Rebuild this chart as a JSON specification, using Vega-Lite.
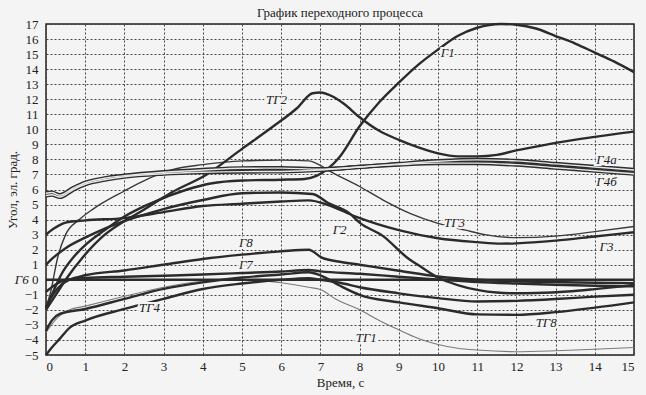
{
  "$schema": "https://vega.github.io/schema/vega-lite/v6.json",
  "width": 588,
  "height": 331,
  "autosize": "none",
  "padding": {"left": 46, "top": 24, "right": 12, "bottom": 40},
  "background": "#f4f4f4",
  "title": {"text": "График переходного процесса", "font": "Liberation Serif", "fontSize": 13, "fontWeight": "normal", "color": "#222", "offset": -2},
  "config": {
    "view": {"stroke": "#222", "strokeWidth": 1.5},
    "axis": {"labelFont": "Liberation Serif", "labelFontSize": 13, "labelColor": "#222", "titleFont": "Liberation Serif", "titleFontSize": 13, "titleFontWeight": "normal", "titleColor": "#222", "gridColor": "#444", "gridDash": [2, 2], "gridWidth": 1, "domain": false, "ticks": false}
  },
  "datasets": {
    "curves": [
      {"s": "Г1", "t": 0, "v": -1.9}, {"s": "Г1", "t": 0.2, "v": -0.7}, {"s": "Г1", "t": 0.4, "v": 0.4}, {"s": "Г1", "t": 0.7, "v": 1.5}, {"s": "Г1", "t": 1, "v": 2.3}, {"s": "Г1", "t": 1.5, "v": 3.3}, {"s": "Г1", "t": 2, "v": 4.2}, {"s": "Г1", "t": 2.6, "v": 5.0}, {"s": "Г1", "t": 3.6, "v": 6.0}, {"s": "Г1", "t": 4.2, "v": 6.4}, {"s": "Г1", "t": 5, "v": 6.6}, {"s": "Г1", "t": 6, "v": 6.65}, {"s": "Г1", "t": 6.6, "v": 6.7}, {"s": "Г1", "t": 6.9, "v": 6.9}, {"s": "Г1", "t": 7.2, "v": 7.4}, {"s": "Г1", "t": 7.5, "v": 8.2}, {"s": "Г1", "t": 8, "v": 10.2}, {"s": "Г1", "t": 8.5, "v": 11.8}, {"s": "Г1", "t": 9, "v": 13.1}, {"s": "Г1", "t": 9.5, "v": 14.3}, {"s": "Г1", "t": 10, "v": 15.3}, {"s": "Г1", "t": 10.5, "v": 16.2}, {"s": "Г1", "t": 11, "v": 16.75}, {"s": "Г1", "t": 11.6, "v": 17.0}, {"s": "Г1", "t": 12, "v": 16.95}, {"s": "Г1", "t": 12.5, "v": 16.7}, {"s": "Г1", "t": 13, "v": 16.2}, {"s": "Г1", "t": 13.5, "v": 15.7}, {"s": "Г1", "t": 14, "v": 15.1}, {"s": "Г1", "t": 14.5, "v": 14.5}, {"s": "Г1", "t": 15, "v": 13.8},
      {"s": "ТГ2", "t": 0, "v": -2.0}, {"s": "ТГ2", "t": 0.3, "v": -0.8}, {"s": "ТГ2", "t": 0.5, "v": 0.0}, {"s": "ТГ2", "t": 0.94, "v": 1.5}, {"s": "ТГ2", "t": 1.5, "v": 3.0}, {"s": "ТГ2", "t": 2, "v": 3.9}, {"s": "ТГ2", "t": 2.4, "v": 4.5}, {"s": "ТГ2", "t": 3.2, "v": 5.8}, {"s": "ТГ2", "t": 4.1, "v": 7.0}, {"s": "ТГ2", "t": 5, "v": 8.7}, {"s": "ТГ2", "t": 5.8, "v": 10.2}, {"s": "ТГ2", "t": 6.4, "v": 11.4}, {"s": "ТГ2", "t": 6.8, "v": 12.4}, {"s": "ТГ2", "t": 7, "v": 12.45}, {"s": "ТГ2", "t": 7.3, "v": 12.2}, {"s": "ТГ2", "t": 7.6, "v": 11.7}, {"s": "ТГ2", "t": 8, "v": 10.8}, {"s": "ТГ2", "t": 8.5, "v": 9.9}, {"s": "ТГ2", "t": 9, "v": 9.3}, {"s": "ТГ2", "t": 9.5, "v": 8.8}, {"s": "ТГ2", "t": 10, "v": 8.4}, {"s": "ТГ2", "t": 10.5, "v": 8.2}, {"s": "ТГ2", "t": 11, "v": 8.2}, {"s": "ТГ2", "t": 11.5, "v": 8.3}, {"s": "ТГ2", "t": 12, "v": 8.6}, {"s": "ТГ2", "t": 12.5, "v": 8.85}, {"s": "ТГ2", "t": 13, "v": 9.1}, {"s": "ТГ2", "t": 14, "v": 9.5}, {"s": "ТГ2", "t": 15, "v": 9.85},
      {"s": "Г2", "t": 0, "v": 1.0}, {"s": "Г2", "t": 0.2, "v": 1.5}, {"s": "Г2", "t": 0.5, "v": 2.1}, {"s": "Г2", "t": 1, "v": 2.8}, {"s": "Г2", "t": 1.5, "v": 3.4}, {"s": "Г2", "t": 2, "v": 3.9}, {"s": "Г2", "t": 3, "v": 4.7}, {"s": "Г2", "t": 4, "v": 5.3}, {"s": "Г2", "t": 5, "v": 5.75}, {"s": "Г2", "t": 6, "v": 5.8}, {"s": "Г2", "t": 6.8, "v": 5.7}, {"s": "Г2", "t": 7.2, "v": 5.1}, {"s": "Г2", "t": 7.75, "v": 4.4}, {"s": "Г2", "t": 8, "v": 3.8}, {"s": "Г2", "t": 8.6, "v": 2.9}, {"s": "Г2", "t": 9.2, "v": 1.5}, {"s": "Г2", "t": 9.6, "v": 0.8}, {"s": "Г2", "t": 10, "v": 0.15}, {"s": "Г2", "t": 10.5, "v": -0.35}, {"s": "Г2", "t": 11, "v": -0.67}, {"s": "Г2", "t": 11.5, "v": -0.85}, {"s": "Г2", "t": 12, "v": -0.9}, {"s": "Г2", "t": 12.5, "v": -0.88}, {"s": "Г2", "t": 13.3, "v": -0.78}, {"s": "Г2", "t": 14, "v": -0.62}, {"s": "Г2", "t": 15, "v": -0.35},
      {"s": "Г3", "t": 0, "v": 3.0}, {"s": "Г3", "t": 0.2, "v": 3.4}, {"s": "Г3", "t": 0.5, "v": 3.8}, {"s": "Г3", "t": 1, "v": 3.95}, {"s": "Г3", "t": 2, "v": 4.1}, {"s": "Г3", "t": 3, "v": 4.5}, {"s": "Г3", "t": 4, "v": 4.9}, {"s": "Г3", "t": 5, "v": 5.05}, {"s": "Г3", "t": 6, "v": 5.2}, {"s": "Г3", "t": 6.7, "v": 5.28}, {"s": "Г3", "t": 7.2, "v": 4.97}, {"s": "Г3", "t": 7.9, "v": 4.2}, {"s": "Г3", "t": 9, "v": 3.3}, {"s": "Г3", "t": 10, "v": 2.76}, {"s": "Г3", "t": 11, "v": 2.5}, {"s": "Г3", "t": 11.6, "v": 2.4}, {"s": "Г3", "t": 12, "v": 2.42}, {"s": "Г3", "t": 13, "v": 2.6}, {"s": "Г3", "t": 14, "v": 2.88}, {"s": "Г3", "t": 15, "v": 3.16},
      {"s": "ТГ3", "t": 0, "v": -1.8}, {"s": "ТГ3", "t": 0.1, "v": -1.0}, {"s": "ТГ3", "t": 0.3, "v": 1.5}, {"s": "ТГ3", "t": 0.5, "v": 3.0}, {"s": "ТГ3", "t": 0.85, "v": 4.0}, {"s": "ТГ3", "t": 1.2, "v": 4.7}, {"s": "ТГ3", "t": 2, "v": 5.9}, {"s": "ТГ3", "t": 2.6, "v": 6.7}, {"s": "ТГ3", "t": 3.2, "v": 7.3}, {"s": "ТГ3", "t": 4, "v": 7.65}, {"s": "ТГ3", "t": 4.5, "v": 7.8}, {"s": "ТГ3", "t": 5, "v": 7.9}, {"s": "ТГ3", "t": 6, "v": 7.95}, {"s": "ТГ3", "t": 6.7, "v": 7.9}, {"s": "ТГ3", "t": 7, "v": 7.6}, {"s": "ТГ3", "t": 7.25, "v": 7.2}, {"s": "ТГ3", "t": 8, "v": 6.2}, {"s": "ТГ3", "t": 8.6, "v": 5.3}, {"s": "ТГ3", "t": 9.3, "v": 4.4}, {"s": "ТГ3", "t": 10, "v": 3.75}, {"s": "ТГ3", "t": 10.7, "v": 3.3}, {"s": "ТГ3", "t": 11.2, "v": 3.0}, {"s": "ТГ3", "t": 12, "v": 2.8}, {"s": "ТГ3", "t": 13, "v": 2.9}, {"s": "ТГ3", "t": 14, "v": 3.2}, {"s": "ТГ3", "t": 15, "v": 3.54},
      {"s": "Г4а", "t": 0, "v": 5.75}, {"s": "Г4а", "t": 0.15, "v": 5.8}, {"s": "Г4а", "t": 0.35, "v": 5.62}, {"s": "Г4а", "t": 0.7, "v": 6.1}, {"s": "Г4а", "t": 1, "v": 6.45}, {"s": "Г4а", "t": 1.5, "v": 6.75}, {"s": "Г4а", "t": 2, "v": 6.92}, {"s": "Г4а", "t": 3, "v": 7.15}, {"s": "Г4а", "t": 4, "v": 7.3}, {"s": "Г4а", "t": 5, "v": 7.41}, {"s": "Г4а", "t": 6, "v": 7.42}, {"s": "Г4а", "t": 7, "v": 7.35}, {"s": "Г4а", "t": 8, "v": 7.5}, {"s": "Г4а", "t": 9, "v": 7.7}, {"s": "Г4а", "t": 10, "v": 7.88}, {"s": "Г4а", "t": 11, "v": 7.97}, {"s": "Г4а", "t": 12, "v": 7.9}, {"s": "Г4а", "t": 13, "v": 7.7}, {"s": "Г4а", "t": 14, "v": 7.5}, {"s": "Г4а", "t": 15, "v": 7.3},
      {"s": "Г4б", "t": 0, "v": 5.6}, {"s": "Г4б", "t": 0.15, "v": 5.65}, {"s": "Г4б", "t": 0.35, "v": 5.5}, {"s": "Г4б", "t": 0.7, "v": 6.0}, {"s": "Г4б", "t": 1, "v": 6.35}, {"s": "Г4б", "t": 1.5, "v": 6.65}, {"s": "Г4б", "t": 2, "v": 6.85}, {"s": "Г4б", "t": 3, "v": 7.05}, {"s": "Г4б", "t": 4, "v": 7.15}, {"s": "Г4б", "t": 5, "v": 7.19}, {"s": "Г4б", "t": 6, "v": 7.2}, {"s": "Г4б", "t": 7, "v": 7.3}, {"s": "Г4б", "t": 8, "v": 7.5}, {"s": "Г4б", "t": 9, "v": 7.65}, {"s": "Г4б", "t": 10, "v": 7.75}, {"s": "Г4б", "t": 11, "v": 7.75}, {"s": "Г4б", "t": 12, "v": 7.65}, {"s": "Г4б", "t": 13, "v": 7.45}, {"s": "Г4б", "t": 14, "v": 7.25}, {"s": "Г4б", "t": 15, "v": 7.05},
      {"s": "Г6", "t": 0, "v": 0}, {"s": "Г6", "t": 15, "v": 0},
      {"s": "Г7", "t": 0, "v": -0.8}, {"s": "Г7", "t": 0.2, "v": -0.4}, {"s": "Г7", "t": 0.45, "v": -0.05}, {"s": "Г7", "t": 1, "v": 0.12}, {"s": "Г7", "t": 2, "v": 0.2}, {"s": "Г7", "t": 3, "v": 0.27}, {"s": "Г7", "t": 4, "v": 0.35}, {"s": "Г7", "t": 5, "v": 0.45}, {"s": "Г7", "t": 6, "v": 0.55}, {"s": "Г7", "t": 6.7, "v": 0.65}, {"s": "Г7", "t": 7, "v": 0.56}, {"s": "Г7", "t": 8, "v": 0.4}, {"s": "Г7", "t": 9, "v": 0.2}, {"s": "Г7", "t": 10, "v": 0.02}, {"s": "Г7", "t": 11, "v": -0.15}, {"s": "Г7", "t": 12, "v": -0.25}, {"s": "Г7", "t": 13, "v": -0.33}, {"s": "Г7", "t": 14, "v": -0.4}, {"s": "Г7", "t": 15, "v": -0.44},
      {"s": "Г8", "t": 0, "v": -1.8}, {"s": "Г8", "t": 0.2, "v": -0.9}, {"s": "Г8", "t": 0.4, "v": -0.3}, {"s": "Г8", "t": 0.6, "v": 0.0}, {"s": "Г8", "t": 1, "v": 0.3}, {"s": "Г8", "t": 2, "v": 0.62}, {"s": "Г8", "t": 3, "v": 1.0}, {"s": "Г8", "t": 4, "v": 1.38}, {"s": "Г8", "t": 5, "v": 1.67}, {"s": "Г8", "t": 6, "v": 1.89}, {"s": "Г8", "t": 6.7, "v": 2.0}, {"s": "Г8", "t": 7.05, "v": 1.45}, {"s": "Г8", "t": 7.5, "v": 1.2}, {"s": "Г8", "t": 8, "v": 1.0}, {"s": "Г8", "t": 9, "v": 0.6}, {"s": "Г8", "t": 10, "v": 0.22}, {"s": "Г8", "t": 11, "v": 0.0}, {"s": "Г8", "t": 12, "v": -0.1}, {"s": "Г8", "t": 13, "v": -0.15}, {"s": "Г8", "t": 14, "v": -0.2}, {"s": "Г8", "t": 15, "v": -0.22},
      {"s": "ТГ1", "t": 0, "v": -3.5}, {"s": "ТГ1", "t": 0.3, "v": -2.5}, {"s": "ТГ1", "t": 0.6, "v": -2.0}, {"s": "ТГ1", "t": 1, "v": -1.75}, {"s": "ТГ1", "t": 2, "v": -1.1}, {"s": "ТГ1", "t": 3, "v": -0.5}, {"s": "ТГ1", "t": 4, "v": -0.1}, {"s": "ТГ1", "t": 5, "v": 0.0}, {"s": "ТГ1", "t": 6, "v": -0.2}, {"s": "ТГ1", "t": 6.7, "v": -0.5}, {"s": "ТГ1", "t": 7, "v": -0.65}, {"s": "ТГ1", "t": 7.4, "v": -1.3}, {"s": "ТГ1", "t": 8, "v": -2.0}, {"s": "ТГ1", "t": 8.5, "v": -2.7}, {"s": "ТГ1", "t": 9, "v": -3.33}, {"s": "ТГ1", "t": 9.5, "v": -3.9}, {"s": "ТГ1", "t": 10, "v": -4.3}, {"s": "ТГ1", "t": 10.5, "v": -4.55}, {"s": "ТГ1", "t": 11, "v": -4.67}, {"s": "ТГ1", "t": 12, "v": -4.78}, {"s": "ТГ1", "t": 13, "v": -4.72}, {"s": "ТГ1", "t": 14, "v": -4.62}, {"s": "ТГ1", "t": 15, "v": -4.5},
      {"s": "ТГ8", "t": 0, "v": -3.4}, {"s": "ТГ8", "t": 0.15, "v": -2.7}, {"s": "ТГ8", "t": 0.35, "v": -2.27}, {"s": "ТГ8", "t": 1, "v": -1.94}, {"s": "ТГ8", "t": 2, "v": -1.27}, {"s": "ТГ8", "t": 3, "v": -0.61}, {"s": "ТГ8", "t": 4, "v": -0.17}, {"s": "ТГ8", "t": 5, "v": 0.15}, {"s": "ТГ8", "t": 6, "v": 0.35}, {"s": "ТГ8", "t": 6.7, "v": 0.5}, {"s": "ТГ8", "t": 7, "v": 0.3}, {"s": "ТГ8", "t": 7.5, "v": -0.4}, {"s": "ТГ8", "t": 8, "v": -1.0}, {"s": "ТГ8", "t": 9, "v": -1.5}, {"s": "ТГ8", "t": 10, "v": -1.89}, {"s": "ТГ8", "t": 11, "v": -2.3}, {"s": "ТГ8", "t": 12, "v": -2.33}, {"s": "ТГ8", "t": 13, "v": -2.15}, {"s": "ТГ8", "t": 14, "v": -1.85}, {"s": "ТГ8", "t": 15, "v": -1.5},
      {"s": "ТГ4", "t": 0, "v": -5.0}, {"s": "ТГ4", "t": 0.15, "v": -4.5}, {"s": "ТГ4", "t": 0.35, "v": -3.93}, {"s": "ТГ4", "t": 0.6, "v": -3.2}, {"s": "ТГ4", "t": 1, "v": -2.71}, {"s": "ТГ4", "t": 2, "v": -1.94}, {"s": "ТГ4", "t": 3, "v": -1.27}, {"s": "ТГ4", "t": 4, "v": -0.61}, {"s": "ТГ4", "t": 5, "v": -0.25}, {"s": "ТГ4", "t": 6, "v": 0.0}, {"s": "ТГ4", "t": 6.7, "v": 0.1}, {"s": "ТГ4", "t": 7, "v": 0.0}, {"s": "ТГ4", "t": 7.5, "v": -0.2}, {"s": "ТГ4", "t": 8, "v": -0.5}, {"s": "ТГ4", "t": 9, "v": -0.9}, {"s": "ТГ4", "t": 10, "v": -1.22}, {"s": "ТГ4", "t": 11, "v": -1.44}, {"s": "ТГ4", "t": 12, "v": -1.4}, {"s": "ТГ4", "t": 13, "v": -1.28}, {"s": "ТГ4", "t": 14, "v": -1.12}, {"s": "ТГ4", "t": 15, "v": -1.0}
    ],
    "labels": [
      {"label": "Г1", "t": 10.25, "v": 15.05},
      {"label": "ТГ2", "t": 5.88, "v": 11.95},
      {"label": "Г4а", "t": 14.3, "v": 7.96},
      {"label": "Г4б", "t": 14.3, "v": 6.52},
      {"label": "ТГ3", "t": 10.42, "v": 3.76},
      {"label": "Г3", "t": 14.3, "v": 2.2},
      {"label": "Г2", "t": 7.49, "v": 3.31},
      {"label": "Г8", "t": 5.1, "v": 2.43},
      {"label": "Г7", "t": 5.1, "v": 0.99},
      {"label": "Г6", "t": -0.62, "v": 0.0},
      {"label": "ТГ4", "t": 2.64, "v": -1.89},
      {"label": "ТГ8", "t": 12.76, "v": -2.89},
      {"label": "ТГ1", "t": 8.17, "v": -3.88}
    ]
  },
  "encoding": {
    "x": {"field": "t", "type": "quantitative", "scale": {"domain": [0, 15], "nice": false}, "axis": {"values": [0, 1, 2, 3, 4, 5, 6, 7, 8, 9, 10, 11, 12, 13, 14, 15], "title": "Время, с", "labelPadding": 5, "titlePadding": 3}},
    "y": {"field": "v", "type": "quantitative", "scale": {"domain": [-5, 17], "nice": false}, "axis": {"values": [-5, -4, -3, -2, -1, 0, 1, 2, 3, 4, 5, 6, 7, 8, 9, 10, 11, 12, 13, 14, 15, 16, 17], "title": "Угол, эл. град.", "labelPadding": 8, "titlePadding": 5}}
  },
  "layer": [
    {
      "data": {"name": "curves"},
      "transform": [{"filter": {"field": "s", "oneOf": ["ТГ1"]}}],
      "mark": {"type": "line", "interpolate": "monotone", "strokeWidth": 1.1, "color": "#7a7a7a"},
      "encoding": {"detail": {"field": "s"}}
    },
    {
      "data": {"name": "curves"},
      "transform": [{"filter": {"field": "s", "oneOf": ["ТГ3"]}}],
      "mark": {"type": "line", "interpolate": "monotone", "strokeWidth": 1.4, "color": "#3a3a3a"},
      "encoding": {"detail": {"field": "s"}}
    },
    {
      "data": {"name": "curves"},
      "transform": [{"filter": {"field": "s", "oneOf": ["Г1", "ТГ2", "Г2", "Г3", "Г6", "Г7", "Г8", "ТГ8", "ТГ4"]}}],
      "mark": {"type": "line", "interpolate": "monotone", "strokeWidth": 2.4, "color": "#2b2b2b"},
      "encoding": {"detail": {"field": "s"}}
    },
    {
      "data": {"name": "curves"},
      "transform": [{"filter": {"field": "s", "oneOf": ["Г4а", "Г4б"]}}],
      "mark": {"type": "line", "interpolate": "monotone", "strokeWidth": 4.2, "color": "#2e2e2e"},
      "encoding": {"detail": {"field": "s"}}
    },
    {
      "data": {"name": "curves"},
      "transform": [{"filter": {"field": "s", "oneOf": ["Г4а", "Г4б"]}}],
      "mark": {"type": "line", "interpolate": "monotone", "strokeWidth": 1.4, "color": "#e8e8e8"},
      "encoding": {"detail": {"field": "s"}}
    },
    {
      "data": {"name": "labels"},
      "mark": {"type": "text", "font": "Liberation Serif", "fontStyle": "italic", "fontSize": 13, "color": "#f4f4f4", "stroke": "#f4f4f4", "strokeWidth": 4, "align": "center", "baseline": "middle"},
      "encoding": {"text": {"field": "label"}}
    },
    {
      "data": {"name": "labels"},
      "mark": {"type": "text", "font": "Liberation Serif", "fontStyle": "italic", "fontSize": 13, "color": "#222", "align": "center", "baseline": "middle"},
      "encoding": {"text": {"field": "label"}}
    }
  ]
}
